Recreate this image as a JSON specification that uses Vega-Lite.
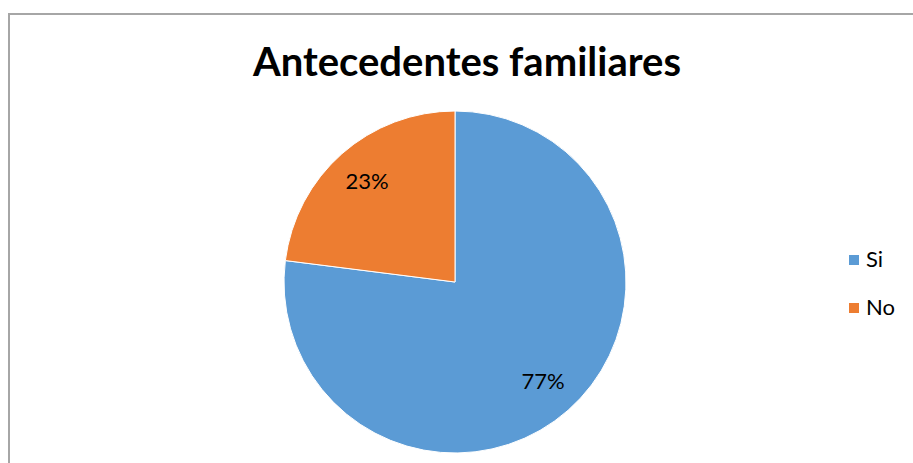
{
  "$schema": "https://vega.github.io/schema/vega-lite/v6.json",
  "autosize": {"type": "none"},
  "width": 906,
  "height": 451,
  "padding": {"left": 9, "top": 14, "right": -2, "bottom": -2},
  "background": "white",
  "view": {"stroke": "#A6A6A6", "strokeWidth": 2, "fill": "white"},
  "config": {
    "view": {"stroke": "#A6A6A6", "strokeWidth": 2},
    "font": "Lato"
  },
  "title": {
    "text": "Antecedentes familiares",
    "font": "Lato",
    "fontSize": 40,
    "fontWeight": "bold",
    "color": "#000000",
    "anchor": "middle",
    "frame": "group",
    "baseline": "alphabetic",
    "offset": 0,
    "dy": 102,
    "dx": 5
  },
  "data": {
    "values": [
      {"Respuesta": "Si", "Porcentaje": 77, "Orden": 1, "Etiqueta": "77%"},
      {"Respuesta": "No", "Porcentaje": 23, "Orden": 2, "Etiqueta": "23%"}
    ]
  },
  "encoding": {
    "theta": {"field": "Porcentaje", "type": "quantitative", "stack": true},
    "order": {"field": "Orden", "type": "quantitative"}
  },
  "layer": [
    {
      "mark": {
        "type": "arc",
        "outerRadius": 171,
        "stroke": "white",
        "strokeWidth": 1,
        "x": {"expr": "width/2 - 7"},
        "y": {"expr": "height/2 + 42.5"}
      },
      "encoding": {
        "color": {
          "field": "Respuesta",
          "type": "nominal",
          "sort": ["Si", "No"],
          "scale": {"domain": ["Si", "No"], "range": ["#5B9BD5", "#ED7D31"]},
          "legend": {
            "title": null,
            "orient": "none",
            "legendX": 834,
            "legendY": 235,
            "symbolType": "square",
            "symbolSize": 100,
            "symbolStrokeWidth": 0,
            "labelFontSize": 22,
            "labelFont": "Lato",
            "labelColor": "#000000",
            "labelOffset": 1,
            "rowPadding": 26
          }
        }
      }
    },
    {
      "mark": {
        "type": "text",
        "radius": 133,
        "fontSize": 22,
        "font": "Lato",
        "color": "#000000",
        "x": {"expr": "width/2 - 7"},
        "y": {"expr": "height/2 + 42.5"}
      },
      "encoding": {
        "text": {"field": "Etiqueta", "type": "nominal"}
      }
    }
  ]
}
